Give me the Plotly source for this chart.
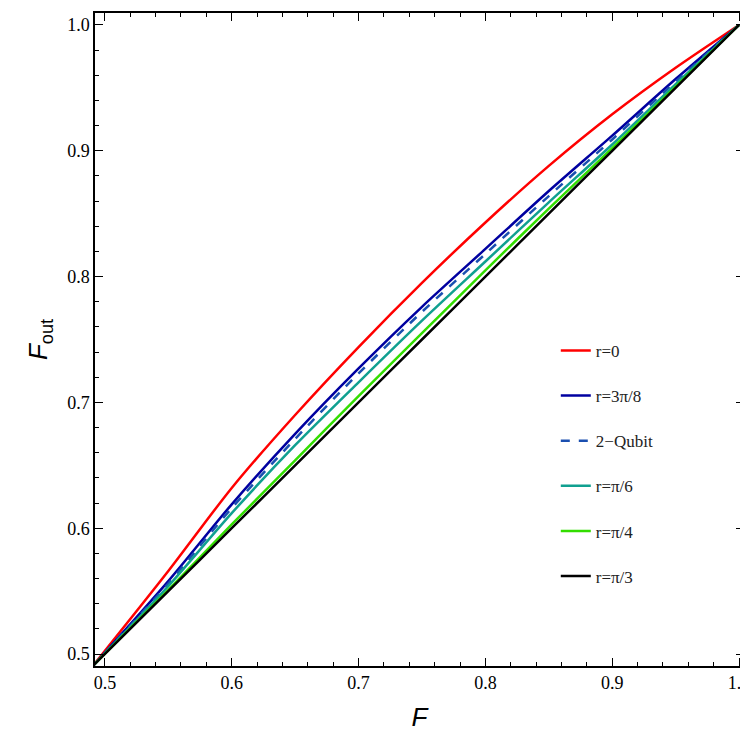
import plotly.graph_objects as go

F = [0.49, 0.55, 0.6, 0.65, 0.7, 0.75, 0.8, 0.85, 0.9, 0.95, 1.0]
r0 = [0.49, 0.566, 0.632, 0.690, 0.744, 0.795, 0.843, 0.888, 0.929, 0.966, 1.0]
r3pi8 = [0.49, 0.558, 0.619, 0.675, 0.727, 0.776, 0.822, 0.868, 0.912, 0.957, 1.0]
qubit2 = [0.49, 0.556, 0.616, 0.671, 0.723, 0.772, 0.818, 0.864, 0.909, 0.955, 1.0]
rpi6 = [0.49, 0.554, 0.612, 0.666, 0.716, 0.765, 0.812, 0.859, 0.905, 0.953, 1.0]
rpi4 = [0.49, 0.551, 0.603, 0.654, 0.705, 0.755, 0.805, 0.854, 0.902, 0.951, 1.0]
rpi3 = [0.49, 0.55, 0.6, 0.65, 0.7, 0.75, 0.8, 0.85, 0.9, 0.95, 1.0]

series = [
    ("r=0", r0, "#ff0000", "solid"),
    ("r=3π/8", r3pi8, "#0000a0", "solid"),
    ("2\u2212Qubit", qubit2, "#1a4fb0", "dash"),
    ("r=π/6", rpi6, "#10a090", "solid"),
    ("r=π/4", rpi4, "#33dd00", "solid"),
    ("r=π/3", rpi3, "#000000", "solid"),
]

fig = go.Figure()
for i, (name, ys, col, dash) in enumerate(series):
    fig.add_trace(go.Scatter(x=F, y=ys, name=name, mode="lines", legendgroup=str(i),
                             line=dict(color=col, width=2.5, dash=dash, shape="spline", smoothing=0.8)))

ax = dict(showgrid=False, zeroline=False, showline=True, linecolor="black", linewidth=1.5,
          mirror="allticks", ticks="inside", ticklen=8, tickwidth=1.2, tickcolor="black",
          dtick=0.1, tickformat=".1f",
          minor=dict(ticks="inside", ticklen=4, dtick=0.02, tickcolor="black"),
          tickfont=dict(family="Liberation Serif", size=18, color="black"))

fig.update_layout(
    width=748, height=743, plot_bgcolor="white", paper_bgcolor="white",
    margin=dict(l=87, r=12, t=3, b=85),
    xaxis=dict(range=[0.4922, 1.0039], title=dict(text="<i>F</i>", font=dict(family="Liberation Sans", size=26, color="black")), **ax),
    yaxis=dict(range=[0.4905, 1.0095], title=dict(text="<i>F</i><sub>out</sub>", font=dict(family="Liberation Sans", size=26, color="black"), standoff=12), **ax),
    legend=dict(x=0.71, y=0.51, xanchor="left", yanchor="top", tracegroupgap=20,
                font=dict(family="Liberation Serif", size=17, color="#222"), bgcolor="rgba(0,0,0,0)"),
)
fig.write_html("out.html")
